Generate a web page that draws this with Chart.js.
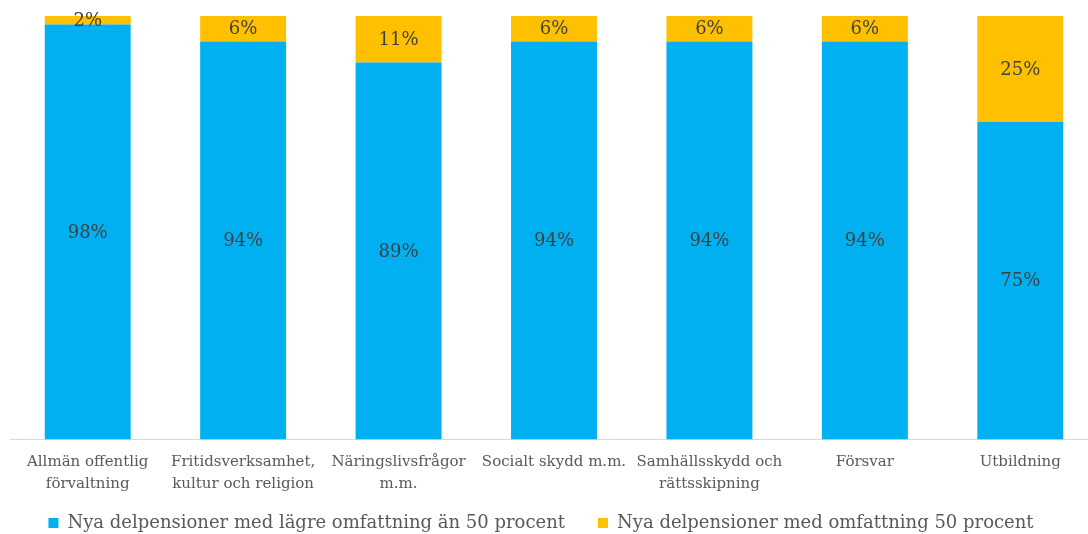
<!DOCTYPE html>
<html>
<head>
<meta charset="utf-8">
<script src="https://cdn.jsdelivr.net/npm/chart.js@4/dist/chart.umd.min.js"></script>
<style>
  html, body { margin: 0; padding: 0; background: #fff; overflow: hidden; }
  #wrap { position: relative; width: 1100px; height: 534px; }
</style>
</head>
<body>
<div id="wrap"><canvas id="chart"></canvas></div>
<script>
const categories = [
  ["Allmän offentlig", "förvaltning"],
  ["Fritidsverksamhet,", "kultur och religion"],
  ["Näringslivsfrågor", "m.m."],
  "Socialt skydd m.m.",
  ["Samhällsskydd och", "rättsskipning"],
  "Försvar",
  "Utbildning"
];
const lowerShare = [98, 94, 89, 94, 94, 94, 75];
const fullShare = [2, 6, 11, 6, 6, 6, 25];
const seriesNames = [
  "Nya delpensioner med lägre omfattning än 50 procent",
  "Nya delpensioner med omfattning 50 procent"
];

const serif = "'DejaVu Serif', serif";

// draws the percent in the middle of each bar segment
const barLabels = {
  id: "barLabels",
  afterDatasetsDraw(chart) {
    const ctx = chart.ctx;
    ctx.save();
    ctx.font = "18px " + serif;
    ctx.fillStyle = "#404040";
    ctx.textAlign = "center";
    ctx.textBaseline = "middle";
    chart.data.datasets.forEach((ds, i) => {
      chart.getDatasetMeta(i).data.forEach((bar, j) => {
        const mid = (bar.y + bar.base) / 2;
        ctx.fillText(ds.data[j] + "%", bar.x, mid + 1);
      });
    });
    ctx.restore();
  }
};

// legend sits closer to the tick labels than chart.js would put it
const legendPlace = {
  id: "legendPlace",
  beforeLayout(chart) {
    const lg = chart.legend;
    if (lg && !lg._trimmed) {
      const fit = lg.fit;
      lg.fit = function () { fit.call(this); this.height = 27; };
      lg._trimmed = true;
    }
  },
  afterLayout(chart) {
    const lg = chart.legend;
    lg.top = 481;
    lg.bottom = chart.height;
    lg.height = lg.bottom - lg.top;
    lg.left -= 13;
    lg.right -= 13;
  }
};

new Chart(document.getElementById("chart"), {
  type: "bar",
  data: {
    labels: categories,
    datasets: [
      { label: seriesNames[0], data: lowerShare, backgroundColor: "#00B0F0" },
      { label: seriesNames[1], data: fullShare, backgroundColor: "#FFC000" }
    ]
  },
  options: {
    responsive: true,
    maintainAspectRatio: false,
    animation: false,
    layout: { padding: { left: 10, right: 2, top: 16, bottom: 0 } },
    datasets: { bar: { categoryPercentage: 1, barPercentage: 0.553 } },
    scales: {
      x: {
        stacked: true,
        grid: { display: false, drawTicks: false },
        border: { color: "#d9d9d9", width: 1 },
        ticks: {
          color: "#595959",
          font: { family: serif, size: 15, lineHeight: 1.45 },
          maxRotation: 0,
          autoSkip: false,
          padding: 12
        }
      },
      y: {
        stacked: true,
        display: false,
        min: 0,
        max: 100
      }
    },
    plugins: {
      legend: {
        position: "bottom",
        labels: {
          color: "#595959",
          font: { family: serif, size: 18 },
          boxWidth: 10,
          boxHeight: 10,
          padding: 33
        }
      },
      tooltip: { enabled: false }
    }
  },
  plugins: [barLabels, legendPlace]
});
</script>
</body>
</html>
